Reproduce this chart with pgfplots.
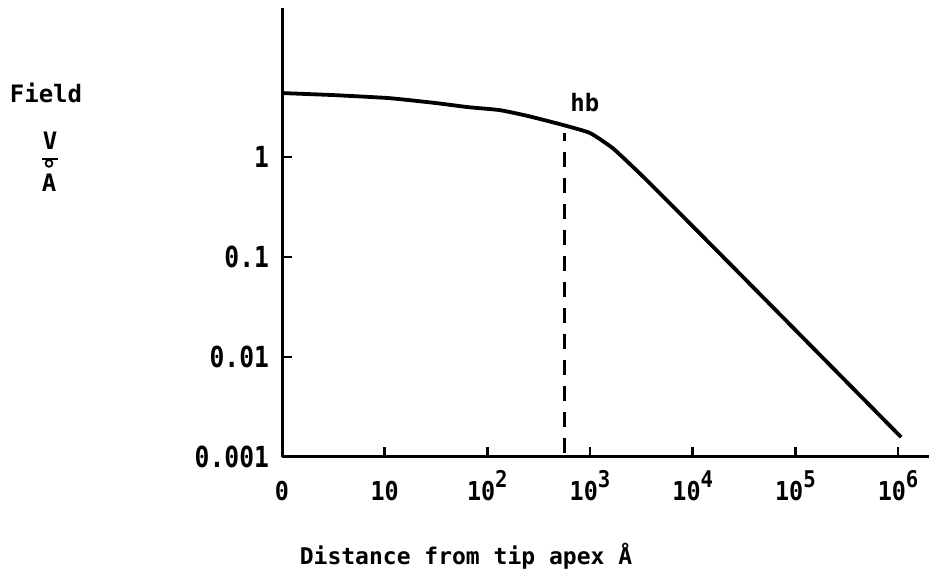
\documentclass[border=0pt]{standalone}
\usepackage{pgfplots}
\pgfplotsset{compat=1.18}
\usepackage{fontspec}
\setmainfont{DejaVu Sans Mono}
\newfontfamily\tickfont[FakeStretch=0.85]{DejaVu Sans Mono}
\newfontfamily\xtickfont[FakeStretch=0.9]{DejaVu Sans Mono}
\newcommand{\sq}[1]{\raisebox{0.5em}{\fontsize{11.5}{11.5}\selectfont #1}}
\begin{document}
\begin{tikzpicture}
\path[use as bounding box] (0,0) rectangle (465.5pt,291pt);
\begin{axis}[
  at={(141pt,62.5pt)}, anchor=south west,
  scale only axis, width=323.5pt, height=224.5pt,
  xmode=log, ymode=log,
  xmin=1, xmax=2e6, ymin=0.001, ymax=31,
  axis x line=bottom, axis y line=left,
  axis line style={-, line width=1.5pt, black},
  xtick={1,10,100,1000,10000,100000,1000000},
  xticklabels={0,10,10\sq{2},10\sq{3},10\sq{4},10\sq{5},10\sq{6}},
  ytick={0.001,0.01,0.1,1},
  yticklabels={0.001,0.01,0.1,1},
  xminorticks=false, yminorticks=false,
  tick align=inside,
  major tick length=5pt,
  tick style={line width=1.3pt, black},
  /pgf/number format/assume math mode=true,
  xticklabel style={font=\xtickfont\bfseries\fontsize{13}{15}\selectfont, anchor=base, yshift=-22pt},
  yticklabel style={font=\tickfont\bfseries\fontsize{14.5}{16}\selectfont, xshift=-3pt},
  clip=false,
]
\addplot[line width=1.9pt, smooth, tension=0.3] coordinates {
  (1,4.37) (3.16,4.17) (11,3.89) (31.6,3.47) (64.6,3.16) (132,2.95)
  (251,2.57) (550,2.09) (1000,1.74) (1660,1.23) (2630,0.794)
  (3800,0.550) (8710,0.234) (30900,0.0631) (1.07e6,0.00158)
};
\addplot[line width=1.2pt, dash pattern=on 7.5pt off 5.5pt] coordinates {
  (562,0.0011) (562,1.74)
};
\node[font=\bfseries\fontsize{12}{14}\selectfont] at (axis cs:891,3.55) {hb};
\end{axis}
\node[font=\bfseries\fontsize{12}{14}\selectfont] at (23pt,244.5pt) {Field};
\node[font=\bfseries\fontsize{12}{14}\selectfont] at (25pt,220.5pt) {V};
\draw[line width=1.1pt] (21pt,211.5pt) -- (29pt,211.5pt);
\draw[line width=0.9pt] (24.5pt,209.3pt) circle (1.7pt);
\node[font=\bfseries\fontsize{12}{14}\selectfont] at (24.5pt,199.5pt) {A};
\node[font=\bfseries\fontsize{11.5}{14}\selectfont] at (233pt,13pt) {Distance from tip apex Å};
\end{tikzpicture}
\end{document}
